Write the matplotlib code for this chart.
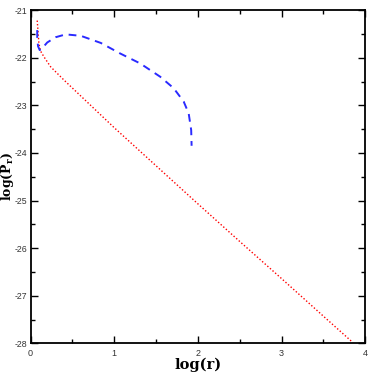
import numpy as np
import matplotlib
matplotlib.use('Agg')
import matplotlib.pyplot as plt
from matplotlib.ticker import MultipleLocator

# red dotted curve
red_logr = [0.08, 0.09, 0.10, 0.12, 0.16, 0.24, 0.40, 0.64, 1.0, 1.5, 2.0, 2.5, 3.0, 3.5, 3.85]
red_logp = [-21.22, -21.45, -21.70, -21.86, -21.98, -22.19, -22.47, -22.87, -23.47, -24.27, -25.07,
            -25.86, -26.64, -27.43, -27.98]

# blue dashed curve
blue_logr = [0.08, 0.08, 0.09, 0.11, 0.14, 0.20, 0.30, 0.42, 0.60, 0.84, 1.07, 1.31, 1.55, 1.71,
             1.83, 1.89, 1.92, 1.925]
blue_logp = [-21.42, -21.60, -21.76, -21.84, -21.80, -21.68, -21.57, -21.51, -21.54, -21.69, -21.91,
             -22.12, -22.40, -22.64, -22.92, -23.17, -23.52, -23.85]

plt.rcParams['mathtext.fontset'] = 'dejavuserif'
plt.rcParams['axes.unicode_minus'] = False
plt.rcParams['font.family'] = ['Liberation Sans', 'DejaVu Sans']

fig = plt.figure(figsize=(3.74, 3.74), dpi=100)
ax = fig.add_axes([0.0816, 0.082, 0.895, 0.891])

ax.plot(red_logr, red_logp, color='red', lw=1.0, ls=(0, (1, 1.5)))
ax.plot(blue_logr, blue_logp, color='#2a2aff', lw=1.4, ls=(0, (4, 3)))

ax.set_xlim(0, 4)
ax.set_ylim(-28, -21)
ax.xaxis.set_major_locator(MultipleLocator(1))
ax.xaxis.set_minor_locator(MultipleLocator(0.5))
ax.yaxis.set_major_locator(MultipleLocator(1))
ax.yaxis.set_minor_locator(MultipleLocator(0.5))
ax.tick_params(which='both', direction='in', top=True, right=True, width=1.0,
               labelsize=6.5, labelcolor='#333333', pad=4)
ax.tick_params(axis='y', pad=2.5, labelsize=6.3)
ax.tick_params(which='major', length=5)
ax.tick_params(which='minor', length=3)
for s in ax.spines.values():
    s.set_linewidth(1.3)

ax.set_xlabel('log(r)', fontsize=10.5, fontweight='bold', family='DejaVu Serif', labelpad=0)
fig.text(0.02, 0.528, r'log(P$_{\mathbf{r}}$)', fontsize=9, fontweight='bold',
         family='DejaVu Serif', rotation=90, ha='center', va='center')

fig.savefig('out.png', dpi=100)
